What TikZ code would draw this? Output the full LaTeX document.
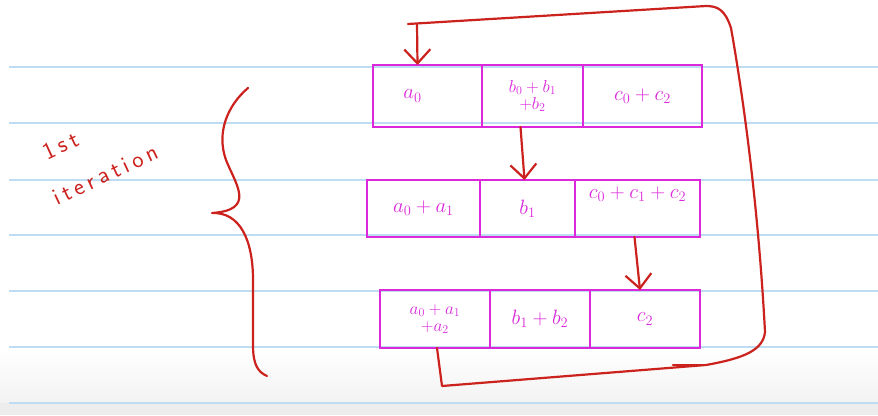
\documentclass[tikz,border=0pt]{standalone}
\usepackage{fontspec}
\usetikzlibrary{arrows.meta,calc}
\newfontfamily\handfont[LetterSpace=18]{Latin Modern Sans}
\definecolor{inkred}{RGB}{204,34,30}
\definecolor{inkpink}{RGB}{218,40,218}
\definecolor{rule}{RGB}{190,220,242}
\tikzset{
  cell/.style={draw=inkpink, line width=2.6pt, inner sep=0pt, outer sep=0pt,
    text=inkpink, font=\fontsize{22}{22}\selectfont, align=center},
  twoline/.style={font=\fontsize{18}{17}\selectfont},
  redline/.style={draw=inkred, line width=2.2pt, line cap=round, line join=round},
  redarrow/.style={redline, -{Straight Barb[length=14pt,width=26pt]}},
  hand/.style={text=inkred, font=\handfont\fontsize{24}{45}\selectfont, inner sep=0pt, align=left}
}
\begin{document}
\begin{tikzpicture}[x=1pt,y=-1pt]
  \useasboundingbox (0,0) rectangle (878,415);
  % paper with ruled lines
  \fill[white] (0,0) rectangle (878,415);
  \shade[top color=white, bottom color=black!5] (0,348) rectangle (878,403);
  \fill[black!7] (0,403) rectangle (878,415);
  \foreach \yy in {67,123,180,235,291,347,403}
    \draw[rule, line width=1.6pt] (9,\yy) -- (878,\yy);

  % first row of cells
  \node[cell, minimum width=109pt, minimum height=62pt] (r1a) at (427.5,96) {$a_0$\hspace{30pt}};
  \node[cell, twoline, minimum width=101pt, minimum height=62pt] (r1b) at (532.5,96) {$b_0+b_1$\\$+b_2$};
  \node[cell, minimum width=119pt, minimum height=62pt] (r1c) at (642.5,96) {$c_0+c_2$};

  % second row of cells
  \node[cell, minimum width=113pt, minimum height=57pt] (r2a) at (423.5,208.5) {$a_0+a_1$};
  \node[cell, minimum width=95pt, minimum height=57pt] (r2b) at (527.5,208.5) {$b_1$};
  \node[cell, minimum width=125pt, minimum height=57pt] (r2c) at (637.5,208.5) {$c_0+c_1+c_2$\\[10pt]};

  % third row of cells
  \node[cell, twoline, minimum width=110pt, minimum height=58pt] (r3a) at (435,319) {$a_0+a_1$\\$+a_2$};
  \node[cell, minimum width=100pt, minimum height=58pt] (r3b) at (540,319) {$b_1+b_2$};
  \node[cell, minimum width=110pt, minimum height=58pt] (r3c) at (645,319) {$c_2$};

  % downward steps between rows
  \draw[redarrow] ([xshift=-12pt]r1b.south) -- ([xshift=-3pt]r2b.north);
  \draw[redarrow] ([xshift=-3pt]r2c.south) -- ([xshift=-5pt]r3c.north);

  % feedback loop from the last row back to the first
  \coordinate (lb) at (442,386);
  \coordinate (rb) at (706,365);
  \coordinate (rr) at (765,332);
  \coordinate (rt) at (731,28);
  \coordinate (tr) at (706,6);
  \coordinate (tl) at (408,24);
  \coordinate (ts) at (417,24);
  \draw[redline] ([xshift=2pt]r3a.south) -- (lb) -- (rb)
    .. controls (745,358) and (763,350) .. (rr)
    .. controls (758,200) and (742,90) .. (rt)
    .. controls (725,10) and (718,6) .. (tr) -- (tl);
  \draw[redline] (673,365) -- (rb);
  \draw[redarrow] (ts) -- ([xshift=-10pt]r1a.north);

  % brace grouping the three rows
  \draw[redline] (248,88) .. controls (228,105) and (216,132) .. (226,160)
    .. controls (236,185) and (256,210) .. (212,213)
    .. controls (240,212) and (253,240) .. (253,280)
    -- (253,345) .. controls (253,365) and (258,372) .. (267,376);

  % label
  \node[hand, rotate=25] (lbl) at (96,154) {\hspace*{10pt}1st\\iteration};
\end{tikzpicture}
\end{document}
